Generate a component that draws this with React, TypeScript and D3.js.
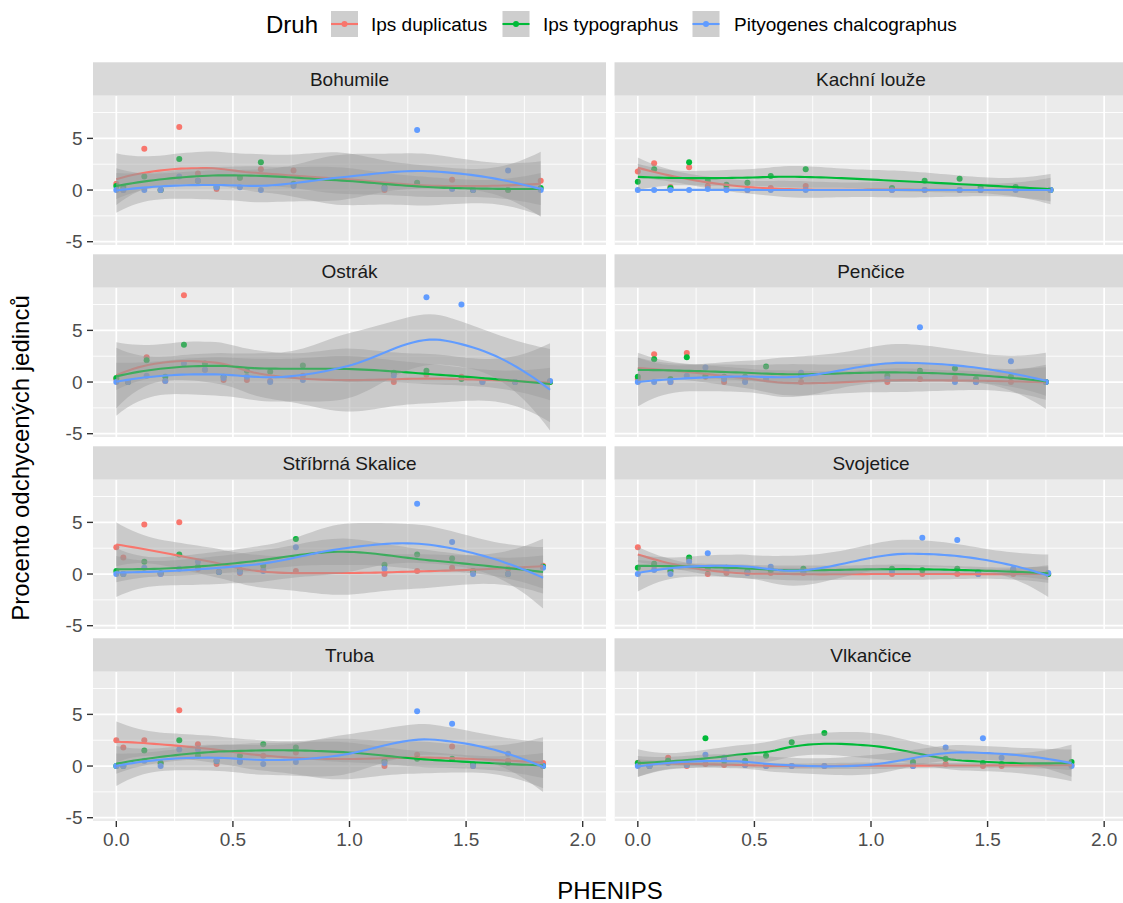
import React from "react";
import * as d3 from "d3";

// species (legend order) and ggplot hue colours
const species = ["Ips duplicatus", "Ips typographus", "Pityogenes chalcographus"];
const speciesColors = ["#F8766D", "#00BA38", "#619CFF"];

const siteNames = [
  "Bohumile", "Kachní louže",
  "Ostrák", "Penčice",
  "Stříbrná Skalice", "Svojetice",
  "Truba", "Vlkančice",
];

const xTicks = [0, 0.5, 1, 1.5, 2];
const xMinorTicks = [0.25, 0.75, 1.25, 1.75];
const yTicks = [-5, 0, 5];
const yMinorTicks = [-2.5, 2.5, 7.5];

// PHENIPS value of each sampling and % of caught individuals per species
const bohumileX = [0, 0.03, 0.12, 0.19, 0.27, 0.35, 0.43, 0.53, 0.62, 0.76, 1.15, 1.29, 1.44, 1.53, 1.68, 1.82];
const bohumileDup = [0.6, 0, 4.0, 0, 6.1, 1.6, 0.1, 1.2, 2.0, 1.9, 0, 0.65, 1.0, 0, 0, 0.9];
const bohumileTyp = [0.4, 0.3, 1.3, 0, 3.0, 0.9, 0.3, 1.2, 2.7, 0.6, 0.3, 0.7, 0.2, 0, 0, 0.2];
const bohumileChal = [0, 0, 0, 0, 1.3, 0.9, 0.26, 0.26, 0, 0.4, 0.16, 5.8, 0.1, 0, 1.9, 0];

const kachniX = [0, 0.07, 0.14, 0.22, 0.3, 0.38, 0.47, 0.57, 0.72, 1.09, 1.23, 1.38, 1.47, 1.62, 1.77];
const kachniDup = [1.8, 2.6, 0.3, 2.2, 0.4, 0.3, 0, 0.2, 0.4, 0, 0, 0, 0, 0.1, 0];
const kachniTyp = [0.8, 2.0, 0.2, 2.7, 0.9, 0.5, 0.7, 1.35, 2.0, 0.2, 0.9, 1.1, 0.3, 0.3, 0];
const kachniChal = [0, 0, 0, 0, 0.1, 0, 0, 0, 0, 0, 0, 0, 0, 0, 0];

const ostrakX = [0, 0.05, 0.13, 0.21, 0.29, 0.38, 0.46, 0.56, 0.66, 0.8, 1.19, 1.33, 1.48, 1.57, 1.71, 1.86];
const ostrakDup = [0.3, 0, 2.4, 0.1, 8.4, 1.2, 0.2, 0.2, 0.1, 0.6, 0, 0.7, 0.5, 0, 0, 0];
const ostrakTyp = [0.4, 0, 2.1, 0.5, 3.6, 1.8, 0.5, 1.1, 1.0, 1.6, 0.9, 1.1, 0.3, 0.2, 0, 0];
const ostrakChal = [0, 0, 0.6, 0.1, 1.8, 1.2, 0.4, 0.5, 0, 0.2, 0.6, 8.2, 7.5, 0, 0, 0.1];

const penciceX = [0, 0.07, 0.14, 0.21, 0.29, 0.37, 0.46, 0.55, 0.7, 1.07, 1.21, 1.36, 1.45, 1.6, 1.75];
const penciceDup = [0.3, 2.7, 0, 2.8, 0.5, 0, 0.1, 0.3, 0, 0, 0.3, 0.4, 0, 0, 0];
const penciceTyp = [0.5, 2.2, 0.3, 2.4, 0.6, 0.5, 0.5, 1.5, 0.6, 0.6, 1.1, 1.3, 0.3, 0.5, 0];
const penciceChal = [0, 0, 0, 0.6, 1.4, 0.3, 0, 0.3, 0.9, 0.3, 5.3, 0, 0, 2.0, 0];

const skaliceX = [0, 0.03, 0.12, 0.19, 0.27, 0.35, 0.44, 0.53, 0.63, 0.77, 1.15, 1.29, 1.44, 1.53, 1.68, 1.83];
const skaliceDup = [2.6, 1.6, 4.8, 0, 5.0, 0.5, 0.2, 0.1, 0.4, 0.3, 0, 0.3, 0.6, 0.3, 0.5, 0.8];
const skaliceTyp = [0.3, 0, 1.2, 0.1, 1.9, 0.7, 0.2, 0.4, 0.8, 3.4, 0.9, 1.9, 1.5, 0.3, 0, 0.7];
const skaliceChal = [0, 0, 0.6, 0, 0.5, 1.2, 0.2, 0.2, 0.3, 2.6, 0.5, 6.8, 3.1, 0, 0, 0.6];

const svojeticeX = [0, 0.07, 0.14, 0.22, 0.3, 0.38, 0.47, 0.57, 0.71, 1.09, 1.22, 1.37, 1.46, 1.61, 1.76];
const svojeticeDup = [2.6, 0.8, 0.3, 1.4, 0, 0.1, 0.1, 0.1, 0.1, 0, 0, 0, 0, 0, 0];
const svojeticeTyp = [0.6, 1.0, 0.3, 1.6, 0.5, 0.6, 0.3, 0.4, 0.5, 0.5, 0.4, 0.5, 0.2, 0.4, 0];
const svojeticeChal = [0, 0.4, 0, 1.2, 2.0, 0.4, 0.1, 0.7, 0.2, 0.3, 3.5, 3.3, 0, 0.5, 0.1];

const trubaX = [0, 0.03, 0.12, 0.19, 0.27, 0.35, 0.43, 0.53, 0.63, 0.77, 1.15, 1.29, 1.44, 1.53, 1.68, 1.83];
const trubaDup = [2.5, 1.8, 2.5, 0.3, 5.4, 2.1, 0.2, 0.5, 1.0, 1.3, 0, 1.1, 1.9, 0, 0.5, 0.3];
const trubaTyp = [0, 0, 1.5, 0.3, 2.5, 1.0, 0.5, 1.0, 2.1, 1.8, 0.5, 0.7, 0.7, 0.2, 0.3, 0];
const trubaChal = [0, 0, 0.5, 0, 1.6, 1.6, 0.5, 0.4, 0.2, 0.4, 0.3, 5.3, 4.1, 0, 1.2, 0];

const vlkanciceX = [0, 0.05, 0.13, 0.21, 0.29, 0.37, 0.46, 0.55, 0.66, 0.8, 1.18, 1.32, 1.48, 1.56, 1.86];
const vlkanciceDup = [0.3, 0, 0.8, 0, 0.2, 0.1, 0.1, 0, 0, 0, 0, 0.2, 0, 0, 0.1];
const vlkanciceTyp = [0.3, 0, 0.5, 0.2, 2.7, 0.5, 0.5, 1.0, 2.3, 3.2, 0.4, 0.7, 0.3, 0.2, 0.4];
const vlkanciceChal = [0, 0, 0.3, 0.1, 1.1, 0.8, 0.1, 0, 0, 0, 0, 1.8, 2.7, 0.8, 0];

const sites = [
  { x: bohumileX, series: [bohumileDup, bohumileTyp, bohumileChal] },
  { x: kachniX, series: [kachniDup, kachniTyp, kachniChal] },
  { x: ostrakX, series: [ostrakDup, ostrakTyp, ostrakChal] },
  { x: penciceX, series: [penciceDup, penciceTyp, penciceChal] },
  { x: skaliceX, series: [skaliceDup, skaliceTyp, skaliceChal] },
  { x: svojeticeX, series: [svojeticeDup, svojeticeTyp, svojeticeChal] },
  { x: trubaX, series: [trubaDup, trubaTyp, trubaChal] },
  { x: vlkanciceX, series: [vlkanciceDup, vlkanciceTyp, vlkanciceChal] },
].map((s, i) => ({ ...s, name: siteNames[i] }));

// ---- loess (degree 2, span 0.75, kd-tree + hermite interpolation) like geom_smooth ----
const SPAN = 0.75;

// operator rows for the local fit value and slope at x0
function localFit(xs: number[], x0: number) {
  const n = xs.length;
  const q = Math.floor(n * SPAN);
  const dist = xs.map((x) => Math.abs(x - x0));
  const h = dist.slice().sort((a, b) => a - b)[q - 1] * 1.0000001;
  const w = dist.map((d) => {
    const u = d / h;
    return u < 1 ? Math.pow(1 - u * u * u, 3) : 0;
  });
  const s = [0, 0, 0, 0, 0];
  xs.forEach((x, i) => {
    const t = x - x0;
    let p = 1;
    for (let k = 0; k < 5; k++) {
      s[k] += w[i] * p;
      p *= t;
    }
  });
  const [a00, a01, a02, a11, a12, a22] = [s[0], s[1], s[2], s[2], s[3], s[4]];
  const c0 = a11 * a22 - a12 * a12;
  const c1 = a02 * a12 - a01 * a22;
  const c2 = a01 * a12 - a02 * a11;
  const det = a00 * c0 + a01 * c1 + a02 * c2;
  const d1 = a00 * a22 - a02 * a02;
  const d2 = a01 * a02 - a00 * a12;
  const val = xs.map((x, i) => {
    const t = x - x0;
    return (w[i] * (c0 + c1 * t + c2 * t * t)) / det;
  });
  const slope = xs.map((x, i) => {
    const t = x - x0;
    return (w[i] * (c1 + d1 * t + d2 * t * t)) / det;
  });
  return { val, slope };
}

function buildVertices(xs: number[]) {
  const sorted = xs.slice().sort((a, b) => a - b);
  const n = sorted.length;
  const fc = Math.floor(n * SPAN * 0.2);
  const lo = sorted[0];
  const hi = sorted[n - 1];
  const mu = 0.005 * (hi - lo);
  const verts = [lo - mu, hi + mu];
  const split = (l: number, u: number) => {
    if (u - l + 1 <= fc) return;
    const m = Math.floor((l + u) / 2);
    verts.push((sorted[m] + sorted[m + 1]) / 2);
    split(l, m);
    split(m + 1, u);
  };
  split(0, n - 1);
  return verts.sort((a, b) => a - b);
}

function makeOperator(xs: number[]) {
  const verts = buildVertices(xs);
  const fits = verts.map((v) => localFit(xs, v));
  return (x: number): number[] => {
    let k = d3.bisectRight(verts, x) - 1;
    k = Math.max(0, Math.min(verts.length - 2, k));
    const v0 = verts[k];
    const v1 = verts[k + 1];
    const hh = v1 - v0;
    const s = (x - v0) / hh;
    const h00 = 2 * s ** 3 - 3 * s ** 2 + 1;
    const h10 = s ** 3 - 2 * s ** 2 + s;
    const h01 = -2 * s ** 3 + 3 * s ** 2;
    const h11 = s ** 3 - s ** 2;
    const f0 = fits[k];
    const f1 = fits[k + 1];
    return xs.map(
      (_, j) =>
        h00 * f0.val[j] + h10 * hh * f0.slope[j] + h01 * f1.val[j] + h11 * hh * f1.slope[j]
    );
  };
}

function qt975(df: number): number {
  const z = 1.959964;
  const z3 = z ** 3, z5 = z ** 5, z7 = z ** 7, z9 = z ** 9;
  const g1 = (z3 + z) / 4;
  const g2 = (5 * z5 + 16 * z3 + 3 * z) / 96;
  const g3 = (3 * z7 + 19 * z5 + 17 * z3 - 15 * z) / 384;
  const g4 = (79 * z9 + 776 * z7 + 1482 * z5 - 1920 * z3 - 945 * z) / 92160;
  return z + g1 / df + g2 / df ** 2 + g3 / df ** 3 + g4 / df ** 4;
}

function smooth(xs: number[], ys: number[]) {
  const n = xs.length;
  const op = makeOperator(xs);
  const L = xs.map((x0) => op(x0));
  const fitted = L.map((row) => d3.sum(row, (l, j) => l * ys[j]));
  const rss = d3.sum(ys, (y, i) => (y - fitted[i]) ** 2);
  const IL = L.map((row, i) => row.map((v, j) => (i === j ? 1 : 0) - v));
  let delta1 = 0;
  let delta2 = 0;
  for (let a = 0; a < n; a++) {
    for (let b = 0; b < n; b++) {
      let m = 0;
      for (let i = 0; i < n; i++) m += IL[i][a] * IL[i][b];
      if (a === b) delta1 += m;
      delta2 += m * m;
    }
  }
  const sigma = Math.sqrt(rss / delta1);
  const tq = qt975((delta1 * delta1) / delta2);
  const [lo, hi] = d3.extent(xs) as [number, number];
  return d3.range(80).map((k) => {
    const x0 = lo + ((hi - lo) * k) / 79;
    const l = op(x0);
    const fit = d3.sum(l, (v, j) => v * ys[j]);
    const se = sigma * Math.sqrt(d3.sum(l, (v) => v * v));
    return { x: x0, y: fit, ymin: fit - tq * se, ymax: fit + tq * se };
  });
}

// ---- layout ----
const W = 1123;
const H = 903;
const colRanges = [[93, 606], [614.5, 1127.5]];
const stripTop0 = 62.3;
const rowStep = 192;
const stripH = 33.4;
const panelH = 149.3;
const xDomain = [-0.1, 2.1];
const yDomain = [-5.32, 9.13];
const font = "'Liberation Sans', Arial, Helvetica, sans-serif";

const Panel = ({ site, idx }: { site: any; idx: number }) => {
  const col = idx % 2;
  const row = Math.floor(idx / 2);
  const [x0, x1] = colRanges[col];
  const stripTop = stripTop0 + row * rowStep;
  const pTop = stripTop + stripH;
  const pBottom = pTop + panelH;
  const x = d3.scaleLinear().domain(xDomain).range([x0, x1]);
  const y = d3.scaleLinear().domain(yDomain).range([pBottom, pTop]);
  const area = d3
    .area<any>()
    .x((d) => x(d.x))
    .y0((d) => y(d.ymin))
    .y1((d) => y(d.ymax));
  const line = d3
    .line<any>()
    .x((d) => x(d.x))
    .y((d) => y(d.y));
  const clipId = `clip-${idx}`;
  const fits = site.series.map((ys: number[]) => smooth(site.x, ys));

  return (
    <g>
      <defs>
        <clipPath id={clipId}>
          <rect x={x0} y={pTop} width={x1 - x0} height={panelH} />
        </clipPath>
      </defs>
      <rect x={x0} y={stripTop} width={x1 - x0} height={stripH} fill="#D9D9D9" />
      <text
        x={(x0 + x1) / 2}
        y={stripTop + stripH / 2 + 6.6}
        textAnchor="middle"
        fontSize={19}
        fill="#1A1A1A"
      >
        {site.name}
      </text>
      <g clipPath={`url(#${clipId})`}>
        <rect x={x0} y={pTop} width={x1 - x0} height={panelH} fill="#EBEBEB" />
        {xMinorTicks.map((t) => (
          <line key={"xm" + t} x1={x(t)} x2={x(t)} y1={pTop} y2={pBottom} stroke="#fff" strokeWidth={0.9} />
        ))}
        {yMinorTicks.map((t) => (
          <line key={"ym" + t} x1={x0} x2={x1} y1={y(t)} y2={y(t)} stroke="#fff" strokeWidth={0.9} />
        ))}
        {xTicks.map((t) => (
          <line key={"x" + t} x1={x(t)} x2={x(t)} y1={pTop} y2={pBottom} stroke="#fff" strokeWidth={1.7} />
        ))}
        {yTicks.map((t) => (
          <line key={"y" + t} x1={x0} x2={x1} y1={y(t)} y2={y(t)} stroke="#fff" strokeWidth={1.7} />
        ))}
        {site.series.map((ys: number[], si: number) =>
          ys.map((v, i) => (
            <circle key={`p${si}-${i}`} cx={x(site.x[i])} cy={y(v)} r={3} fill={speciesColors[si]} />
          ))
        )}
        {fits.map((f: any[], si: number) => (
          <g key={"s" + si}>
            <path d={area(f) || ""} fill="#999999" fillOpacity={0.4} />
            <path d={line(f) || ""} fill="none" stroke={speciesColors[si]} strokeWidth={2.1} />
          </g>
        ))}
      </g>
      {col === 0 &&
        yTicks.map((t) => (
          <g key={"yt" + t}>
            <line x1={x0 - 6} x2={x0} y1={y(t)} y2={y(t)} stroke="#333333" strokeWidth={1.4} />
            <text x={x0 - 10.5} y={y(t) + 6.8} textAnchor="end" fontSize={19} fill="#4D4D4D">
              {t}
            </text>
          </g>
        ))}
      {row === 3 &&
        xTicks.map((t) => (
          <g key={"xt" + t}>
            <line x1={x(t)} x2={x(t)} y1={pBottom} y2={pBottom + 6} stroke="#333333" strokeWidth={1.4} />
            <text x={x(t)} y={pBottom + 25} textAnchor="middle" fontSize={19} fill="#4D4D4D">
              {d3.format(".1f")(t)}
            </text>
          </g>
        ))}
    </g>
  );
};

const legendKeys = [331, 502.5, 692.5];
const legendTexts = [371, 543, 734];

export default function App() {
  return (
    <svg
      width={W}
      height={H}
      style={{ position: "absolute", left: 0, top: 0, fontFamily: font }}
    >
      <rect width={W} height={H} fill="#fff" />
      {sites.map((s, i) => (
        <Panel key={s.name} site={s} idx={i} />
      ))}

      {/* legend */}
      <text x={266} y={32.5} fontSize={24} fill="#000">Druh</text>
      {species.map((sp, i) => (
        <g key={sp}>
          <rect x={legendKeys[i]} y={11} width={27} height={26} fill="#CECECE" />
          <line
            x1={legendKeys[i]}
            x2={legendKeys[i] + 27}
            y1={24}
            y2={24}
            stroke={speciesColors[i]}
            strokeWidth={2.1}
          />
          <circle cx={legendKeys[i] + 13.5} cy={24} r={3} fill={speciesColors[i]} />
          <text x={legendTexts[i]} y={30.8} fontSize={19} fill="#000">{sp}</text>
        </g>
      ))}

      {/* axis titles */}
      <text x={610} y={899} textAnchor="middle" fontSize={24} fill="#000">PHENIPS</text>
      <text
        transform={`translate(29, 458) rotate(-90)`}
        textAnchor="middle"
        fontSize={24}
        fill="#000"
      >
        Procento odchycených jedinců
      </text>
    </svg>
  );
}
